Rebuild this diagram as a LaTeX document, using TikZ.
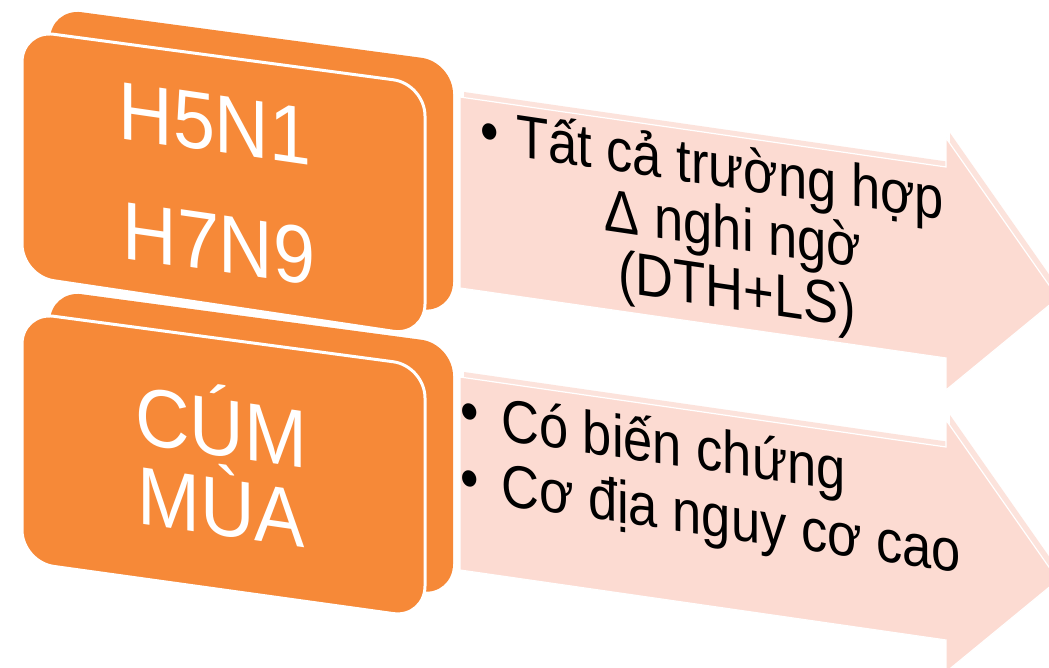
\documentclass[tikz,border=0pt]{standalone}
\usepackage{fontspec}
\setmainfont{Liberation Sans}
\definecolor{blockorange}{RGB}{246,137,56}
\definecolor{arrowpink}{RGB}{252,219,210}
\definecolor{arrowpinkback}{RGB}{252,227,220}
\begin{document}
\begin{tikzpicture}[x=1pt,y=-1pt,
  blockback/.style={fill=blockorange, rounded corners=32pt},
  blockface/.style={fill=blockorange, draw=white, line width=3pt, rounded corners=32pt},
  arrowback/.style={fill=arrowpinkback},
  arrowfront/.style={fill=arrowpink, draw=white, line width=1.2pt, line join=miter},
  boxlabel/.style={inner sep=0pt, anchor=base, text=white, align=center,
    font=\fontsize{82}{80}\selectfont, cm={0.92,-0.1334,0,1,(0,0)}},
  arrowlabel/.style={inner sep=0pt, text=black,
    font=\fontsize{60}{72}\selectfont, cm={0.875,-0.1295,0,1,(0,0)}},
]
\useasboundingbox (0,0) rectangle (1049,668);
\clip (0,0) rectangle (1049,668);
\fill[white] (0,0) rectangle (1049,668);

% block arrows (back layer gives the thin bevel along the top edge)
\path[arrowback] (464,92) -- (950,162) -- (950,133) -- (1062,293) -- (950,385) -- (950,353) -- (464,283) -- cycle;
\path[arrowfront] (460,97) -- (946,167) -- (946,138) -- (1058,298) -- (946,390) -- (946,358) -- (460,288) -- cycle;
\path[arrowback] (464,372) -- (950,442) -- (950,415) -- (1062,575) -- (950,667) -- (950,635) -- (464,565) -- cycle;
\path[arrowfront] (460,377) -- (946,447) -- (946,420) -- (1058,580) -- (946,672) -- (946,640) -- (460,570) -- cycle;

% lower orange block: extruded back, then front face with white rim
\path[blockback] (251,317) -- (453,344) -- (453,596) -- (50,538) -- (50,290) -- cycle;
\path[blockface] (223,339) -- (425,366) -- (425,618) -- (22,562) -- (22,312) -- cycle;
% upper orange block
\path[blockback] (251,35) -- (453,62) -- (453,314) -- (50,254) -- (50,8) -- cycle;
\path[blockface] (223,57) -- (425,84) -- (425,336) -- (22,276) -- (22,30) -- cycle;

% labels on the orange blocks (a two-line node is anchored on its last line)
\node[boxlabel] (h5) at (215,152) {H5N1};
\node[boxlabel] (h7) at (219,272) {H7N9};
\node[boxlabel] (flu) at (221,536) {CÚM\\MÙA};

% text in the upper arrow
\node[arrowlabel, anchor=base] (b1) at (490,152) {•};
\node[arrowlabel, anchor=base] (l1a) at (730,188) {Tất cả trường hợp};
\node[arrowlabel, anchor=base] (l1b) at (733,249) {Δ nghi ngờ};
\node[arrowlabel, anchor=base] (l1c) at (737,310) {(DTH+LS)};

% text in the lower arrow
\node[arrowlabel, anchor=base] (b2) at (470,432) {•};
\node[arrowlabel, anchor=base west] (l2a) at (501,440) {Có biến chứng};
\node[arrowlabel, anchor=base] (b3) at (470,499) {•};
\node[arrowlabel, anchor=base west] (l2b) at (501,505) {Cơ địa nguy cơ cao};
\end{tikzpicture}
\end{document}
